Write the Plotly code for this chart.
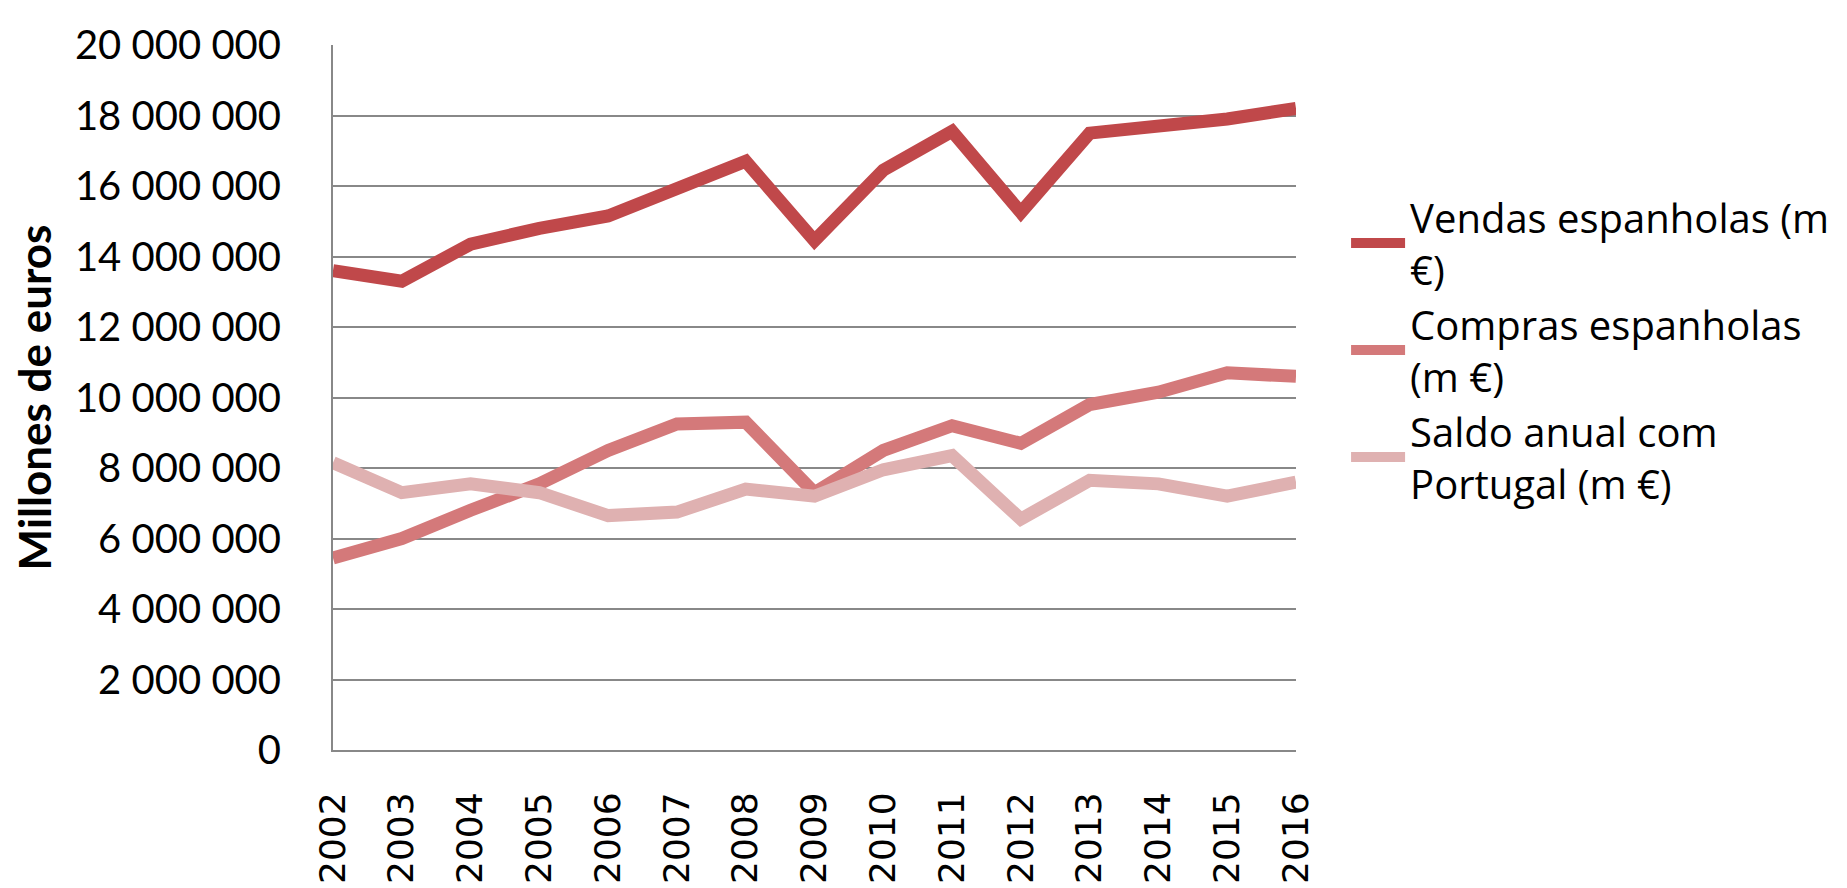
import plotly.graph_objects as go

# years on the category axis
years = ["2002", "2003", "2004", "2005", "2006", "2007", "2008", "2009",
         "2010", "2011", "2012", "2013", "2014", "2015", "2016"]

# values (thousand euros)
vendas = [13600000, 13300000, 14350000, 14800000, 15150000, 15950000, 16700000,
          14450000, 16450000, 17550000, 15250000, 17500000, 17700000, 17900000, 18200000]
compras = [5450000, 6000000, 6800000, 7550000, 8500000, 9250000, 9300000,
           7300000, 8500000, 9200000, 8700000, 9800000, 10150000, 10700000, 10600000]
saldo = [8150000, 7300000, 7550000, 7300000, 6650000, 6750000, 7400000,
         7200000, 7950000, 8350000, 6550000, 7650000, 7550000, 7200000, 7600000]

series_names = ["Vendas espanholas (m<br>€)", "Compras espanholas<br>(m €)",
                "Saldo anual com<br>Portugal (m €)"]
colors = ["#C0484A", "#D4797A", "#DFB1B1"]

fig = go.Figure()
for name, vals, col in zip(series_names, [vendas, compras, saldo], colors):
    fig.add_trace(go.Scatter(
        x=years, y=vals, name=name, mode="lines",
        line=dict(color=col, width=13),
    ))

fig.update_layout(
    width=1847, height=888,
    paper_bgcolor="white", plot_bgcolor="white",
    margin=dict(l=325, r=559, t=29, b=128),
    separators=", ",
    showlegend=True,
    legend=dict(
        x=1.052, y=0.802, xanchor="left", yanchor="top",
        font=dict(family="Open Sans, Lato, sans-serif", size=40, color="black"),
        tracegroupgap=0,
        itemwidth=54,
    ),
    xaxis=dict(
        type="category",
        tickangle=-90,
        tickfont=dict(family="DejaVu Sans, sans-serif", size=36, color="black"),
        showgrid=False,
        showline=True, linecolor="#888888", linewidth=2,
        ticks="outside", ticklen=26, tickcolor="rgba(0,0,0,0)",
    ),
    yaxis=dict(
        range=[0, 20000000],
        dtick=2000000,
        tickformat=",d",
        tickfont=dict(family="Lato, Open Sans, sans-serif", size=40, color="black"),
        showgrid=True, gridcolor="#888888", gridwidth=2,
        showline=True, linecolor="#888888", linewidth=2,
        zeroline=False,
        ticks="outside", ticklen=42, tickcolor="rgba(0,0,0,0)",
        title=dict(text="<b>Millones de euros</b>",
                   font=dict(family="Lato, Open Sans, sans-serif", size=44, color="black"),
                   standoff=18),
    ),
)

fig.write_html("out.html")
